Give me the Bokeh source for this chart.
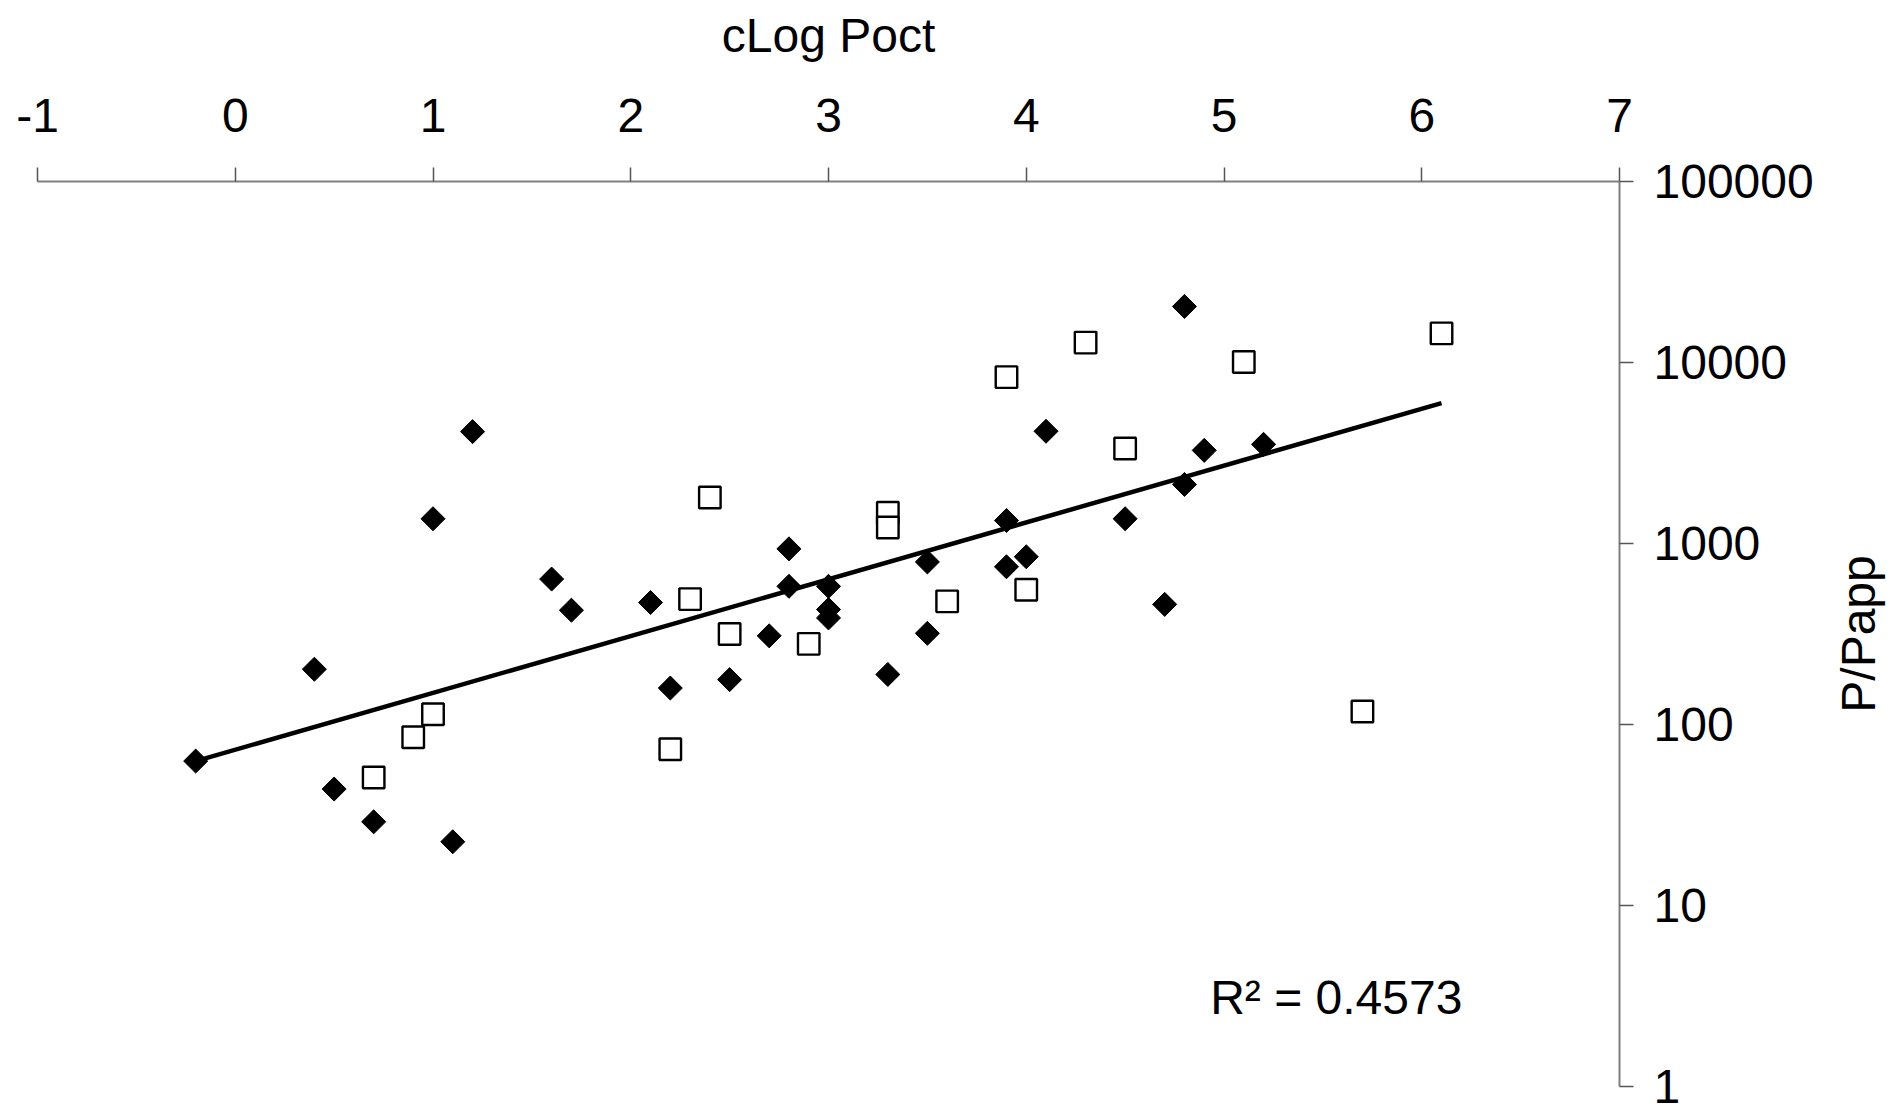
import math
from bokeh.plotting import figure
from bokeh.layouts import row
from bokeh.models import Range1d, FixedTicker, CustomJSTickFormatter, Label
from bokeh.embed import file_html
from bokeh.resources import INLINE

# ---- data ----
x_ticks = [-1, 0, 1, 2, 3, 4, 5, 6, 7]
y_ticks = [1, 10, 100, 1000, 10000, 100000]

filled_x = [-0.2, 0.4, 0.5, 0.7, 1.0, 1.1, 1.2, 1.6, 1.7, 2.1, 2.2, 2.5, 2.7, 2.8, 2.8,
            3.0, 3.0, 3.0, 3.3, 3.5, 3.5, 3.9, 3.9, 4.0, 4.1, 4.5, 4.7, 4.8, 4.8, 4.9, 5.2]
filled_y = [62.8, 202, 44, 29, 1370, 22.5, 4150, 636, 428, 472, 159, 177, 309, 934, 580,
            580, 432, 388, 189, 791, 319, 1340, 744, 845, 4170, 1370, 461, 20400, 2120, 3270, 3530]

open_x = [0.7, 0.9, 1.0, 2.2, 2.3, 2.4, 2.5, 2.9, 3.3, 3.3, 3.6, 3.9, 4.0, 4.3, 4.5, 5.1, 5.7, 6.1]
open_y = [51, 85, 114, 73, 493, 1795, 316, 279, 1480, 1225, 479, 8300, 555, 12880, 3350, 10070, 118, 14480]

trend_x = [-0.2, 6.1]
trend_y = [62.8, 5965]

x_title = "cLog Poct"
y_title = "P/Papp"
r2_text = "R\u00b2 = 0.4573"

FONT = "Liberation Sans"
FS = "48px"

MAIN_W = 1828
TITLE_W = 1902 - MAIN_W
TOP = 181
BOTTOM = 26

p = figure(width=MAIN_W, height=1112,
           x_range=Range1d(-1, 7), y_range=Range1d(1, 1e5),
           y_axis_type="log", x_axis_location="above", y_axis_location="right",
           output_backend="svg", toolbar_location=None,
           min_border_left=37, min_border_right=MAIN_W - 1619, min_border_top=TOP,
           min_border_bottom=BOTTOM)

p.outline_line_color = None
p.xgrid.visible = False
p.ygrid.visible = False
p.background_fill_color = "white"
p.border_fill_color = "white"

fmt = "return tick.toFixed(0);"
for ax, ticks in ((p.xaxis[0], x_ticks), (p.yaxis[0], y_ticks)):
    ax.ticker = FixedTicker(ticks=ticks)
    ax.formatter = CustomJSTickFormatter(code=fmt)
    ax.axis_line_color = "#808080"
    ax.axis_line_width = 2
    ax.major_tick_line_color = "#555555"
    ax.major_tick_line_width = 1.5
    ax.major_tick_out = 14
    ax.major_tick_in = 0
    ax.minor_tick_out = 0
    ax.minor_tick_in = 0
    ax.major_label_text_font = FONT
    ax.major_label_text_font_size = FS
    ax.major_label_text_color = "black"
    ax.axis_label_text_font = FONT
    ax.axis_label_text_font_size = FS
    ax.axis_label_text_font_style = "normal"
    ax.axis_label_text_color = "black"

xa = p.xaxis[0]
xa.axis_label = x_title
xa.major_label_standoff = 36
xa.axis_label_standoff = 34

ya = p.yaxis[0]
ya.major_label_standoff = 20

p.scatter(open_x, open_y, marker="square", size=21.5, fill_color="white",
          line_color="black", line_width=2.4)
p.scatter(filled_x, filled_y, marker="square", angle=math.pi / 4, size=17,
          fill_color="black", line_color="black", line_width=1)
p.line(trend_x, trend_y, line_color="black", line_width=4.5)

p.add_layout(Label(x=4.93, y=3.1, text=r2_text, text_font=FONT, text_font_size=FS,
                   text_color="black", text_baseline="alphabetic", text_align="left"))

# narrow strip carrying the y-axis title, reading bottom to top
p2 = figure(width=TITLE_W, height=1112, x_range=Range1d(0, 1), y_range=Range1d(0, 1),
            x_axis_location=None, y_axis_location="left",
            output_backend="svg", toolbar_location=None,
            min_border_left=56, min_border_right=0, min_border_top=TOP,
            min_border_bottom=BOTTOM)
p2.outline_line_color = None
p2.xgrid.visible = False
p2.ygrid.visible = False
p2.background_fill_color = "white"
p2.border_fill_color = "white"
ta = p2.yaxis[0]
ta.ticker = FixedTicker(ticks=[])
ta.axis_line_color = None
ta.major_tick_out = 0
ta.major_tick_in = 0
ta.minor_tick_out = 0
ta.minor_tick_in = 0
ta.major_label_standoff = 0
ta.axis_label = y_title
ta.axis_label_standoff = 0
ta.axis_label_text_font = FONT
ta.axis_label_text_font_size = FS
ta.axis_label_text_font_style = "normal"
ta.axis_label_text_color = "black"

layout = row(p, p2, spacing=0)
open("out.html", "w").write(file_html(layout, INLINE))
